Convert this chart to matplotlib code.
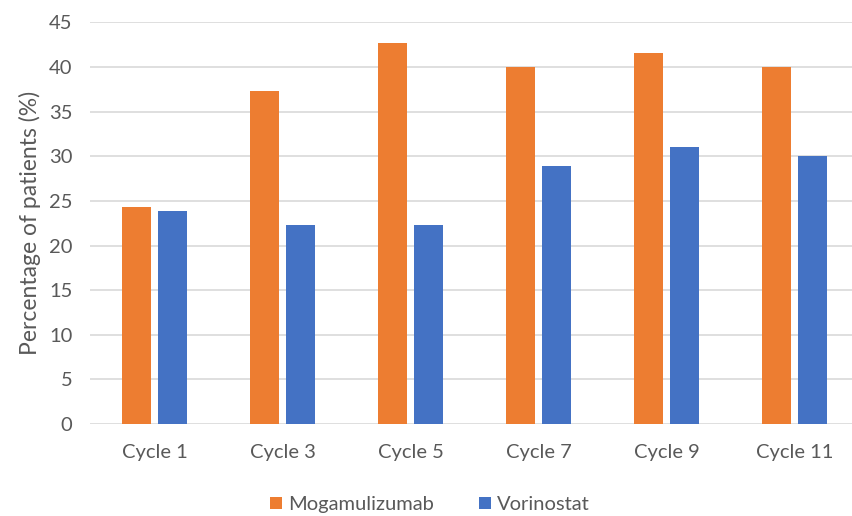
import numpy as np
import matplotlib.pyplot as plt

cycles = ["Cycle 1", "Cycle 3", "Cycle 5", "Cycle 7", "Cycle 9", "Cycle 11"]
mogamulizumab = [24.3, 37.3, 42.7, 40.0, 41.5, 40.0]
vorinostat = [23.9, 22.3, 22.3, 28.9, 31.0, 30.0]

ORANGE = "#ED7D31"
BLUE = "#4472C4"
GREY_TXT = "#595959"

plt.rcParams["font.family"] = ["Lato", "DejaVu Sans"]

fig = plt.figure(figsize=(8.53, 5.16), dpi=100)
ax = fig.add_axes([0.106, 0.178, 0.894, 0.779])

x = np.arange(len(cycles))
w = 0.227
off = 0.141
ax.bar(x - off, mogamulizumab, w, color=ORANGE, label="Mogamulizumab", zorder=3)
ax.bar(x + off, vorinostat, w, color=BLUE, label="Vorinostat", zorder=3)

ax.set_xlim(-0.5, 5.457)
ax.set_ylim(0, 45)
ax.set_yticks(range(0, 46, 5))
ax.set_xticks(x)
ax.set_xticklabels(cycles)
ax.yaxis.grid(True, color="#d9d9d9", linewidth=1.2, zorder=0)
for s in ax.spines.values():
    s.set_visible(False)
ax.tick_params(axis="both", length=0, colors=GREY_TXT, labelsize=14.5)
ax.tick_params(axis="y", pad=13)
ax.tick_params(axis="x", pad=14)

ax.set_ylabel("Percentage of patients (%)", color=GREY_TXT, fontsize=16.5, labelpad=6)

fig.legend(loc="center", bbox_to_anchor=(0.504, 0.022), ncol=2, frameon=False,
           fontsize=14.5, labelcolor=GREY_TXT, handlelength=0.6, handleheight=0.6,
           handletextpad=0.3, columnspacing=2.2)

fig.savefig("out.png", dpi=100)
